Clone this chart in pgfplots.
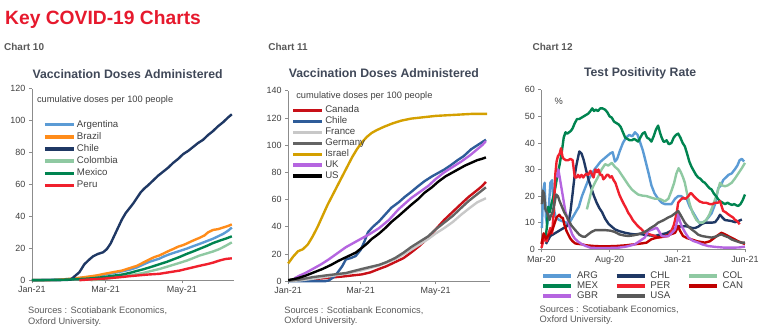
\documentclass[border=0pt]{standalone}
\usepackage{pgfplots}
\pgfplotsset{compat=1.18}
\usepackage{fontspec}
\setmainfont{Liberation Sans}
\definecolor{hdred}{RGB}{230,25,45}
\definecolor{chartlbl}{RGB}{89,89,89}
\definecolor{ttl}{RGB}{64,72,88}
\definecolor{axgray}{RGB}{140,140,140}
\definecolor{lblgray}{RGB}{64,64,64}
\definecolor{cArg}{RGB}{91,155,213}
\definecolor{cBra}{RGB}{255,140,26}
\definecolor{cChl}{RGB}{31,56,100}
\definecolor{cCol}{RGB}{143,201,162}
\definecolor{cMex}{RGB}{0,132,80}
\definecolor{cPer}{RGB}{240,32,45}
\definecolor{cCan}{RGB}{200,16,24}
\definecolor{cChl2}{RGB}{46,92,153}
\definecolor{cFra}{RGB}{200,200,200}
\definecolor{cGer}{RGB}{100,100,100}
\definecolor{cIsr}{RGB}{212,160,0}
\definecolor{cUK}{RGB}{181,101,224}
\definecolor{cUS}{RGB}{0,0,0}
\definecolor{cCan3}{RGB}{192,0,0}
\definecolor{cUSA3}{RGB}{89,89,89}
\pgfplotsset{
  base/.style={
    scale only axis, anchor=south west,
    axis lines=left, axis line style={-, draw=axgray, line width=0.6pt},
    tick style={draw=axgray, line width=0.6pt}, tick align=outside,
    major tick length=3pt,
    xtick pos=bottom, ytick pos=left,
    tick label style={font=\fontsize{9}{10}\selectfont, text=lblgray},
    /pgf/number format/assume math mode=true,
    clip=false,
    every axis plot/.append style={line width=2.4pt, line join=round, mark=none},
    legend cell align=left,
  },
  leg/.style={
    legend image code/.code={\draw[##1, line width=3.5pt] (0pt,0pt) -- (#1,0pt);},
  },
}
\begin{document}
\begin{tikzpicture}
\path (0pt,0pt) rectangle (762pt,332pt);
\node[anchor=base west, font=\bfseries\fontsize{19.3}{20}\selectfont, text=hdred, inner sep=0pt] at (5pt,307pt) {Key COVID-19 Charts};
\node[anchor=base west, font=\bfseries\fontsize{10}{11}\selectfont, text=chartlbl, inner sep=0pt] at (4pt,281pt) {Chart 10};
\node[anchor=base west, font=\bfseries\fontsize{10}{11}\selectfont, text=chartlbl, inner sep=0pt] at (269pt,281pt) {Chart 11};
\node[anchor=base west, font=\bfseries\fontsize{10}{11}\selectfont, text=chartlbl, inner sep=0pt] at (534pt,281pt) {Chart 12};

% ---------------- Chart 10 ----------------
\begin{axis}[base, leg=29pt,
  at={(32pt,51pt)}, width=203pt, height=192pt,
  xmin=0, xmax=162, ymin=0, ymax=120,
  xtick={0,59,120}, xticklabels={Jan-21,Mar-21,May-21},
  ytick={0,20,...,120},
  legend style={at={(axis description cs:0,1)}, anchor=north west, xshift=11pt, yshift=-31pt,
    draw=none, fill=none, inner sep=0pt, row sep=2.5pt,
    font=\fontsize{9.7}{10}\selectfont, text=lblgray,
    nodes={inner sep=0pt, text height=7.2pt, text depth=2.5pt},
    /tikz/every odd column/.append style={column sep=1.5pt}},
]
\addplot[cArg] table {
0 0
25 0.5
35 1
45 2
52 2.7
58 3.5
65 4.5
72 5.5
78 6.5
84 8
89 9.8
94 11.5
98 12.5
102 13.5
106 15
110 16.2
113 17
117 18
121 19
124 19.8
128 21
134 22.7
140 24.5
145 26
149 27.5
153 29
157 31
160 33
};
\addlegendentry{Argentina}
\addplot[cBra] table {
0 0
17 0.1
25 0.5
35 1.2
45 2.2
52 3
58 4
65 5
72 6
78 7.5
84 9
89 11
94 13
98 14.5
102 15.5
106 17
110 18.5
113 19.5
117 21
121 22
124 23
128 24.5
131 25.5
134 26.5
138 28
141 30
145 31.5
149 32
153 33
157 34
160 35
};
\addlegendentry{Brazil}
\addplot[cChl] table {
0 0
20 0
31 0.3
35 3
38 5
42 10
46 13
49 15
53 16.5
57 17.5
60 19.5
63 23
66 28
69 33
72 38
75 42
78 45
81 48
84 51.5
87 55
90 57.5
93 59.5
97 62.5
101 65.5
105 68
109 70.5
113 73.5
117 76
121 79
125 81
129 83.5
133 86
137 88
141 91
145 93.5
149 96.5
153 99
157 102
160 104
};
\addlegendentry{Chile}
\addplot[cCol] table {
47 0
52 0.3
58 0.8
65 1.5
72 2.2
78 3
84 3.8
89 4.5
95 5.7
102 7
108 8.4
113 9.6
118 10.8
124 12.3
129 13.8
134 15.4
140 16.8
145 18
150 19.5
155 21.5
160 23.7
};
\addlegendentry{Colombia}
\addplot[cMex] table {
0 0
23 0.2
35 0.6
45 1
52 1.5
58 2
65 2.8
72 3.5
78 4.5
84 5.8
89 6.8
95 8.2
102 10
108 11.5
113 13
118 14.5
124 16.5
129 18
134 19.6
140 21.5
145 23.3
150 24.7
155 26
160 27.5
};
\addlegendentry{Mexico}
\addplot[cPer] table {
38 0
45 0.4
52 0.7
58 1
65 1.5
72 2
78 2.5
85 3
92 3.5
102 4
110 5
118 6
126 7.5
134 9
140 10
145 11
150 12.3
155 13.3
160 13.7
};
\addlegendentry{Peru}
\end{axis}
\node[anchor=base, font=\bfseries\fontsize{12.3}{13}\selectfont, text=ttl] at (128pt,253pt) {Vaccination Doses Administered};
\node[anchor=base west, inner sep=0pt, font=\fontsize{9.3}{10}\selectfont, text=lblgray] at (37pt,229pt) {cumulative doses per 100 people};
\node[anchor=base west, inner sep=0pt, font=\fontsize{9.3}{10}\selectfont, text=chartlbl] at (28pt,18pt) {Sources : Scotiabank Economics,};
\node[anchor=base west, inner sep=0pt, font=\fontsize{9.3}{10}\selectfont, text=chartlbl] at (28pt,7pt) {Oxford University.};

% ---------------- Chart 11 ----------------
\begin{axis}[base, leg=29pt,
  at={(289pt,50pt)}, width=202pt, height=191pt,
  xmin=0, xmax=164, ymin=0, ymax=140,
  xtick={0,59,120}, xticklabels={Jan-21,Mar-21,May-21},
  ytick={0,20,...,140},
  legend style={at={(axis description cs:0,1)}, anchor=north west, xshift=3pt, yshift=-15pt,
    draw=none, fill=none, inner sep=0pt, row sep=2pt,
    font=\fontsize{9.7}{10}\selectfont, text=lblgray,
    nodes={inner sep=0pt, text height=6.8pt, text depth=2.2pt},
    /tikz/every odd column/.append style={column sep=1.5pt}},
]
\addplot[cCan] table {
0 0.3
10 0.8
20 1.5
33 2.5
45 3.5
60 5
67 6.5
74 9
80 11
87 14
94 17
100 21
107 26
114 32
120 38
127 45
134 51
141 57
147 62
154 67
158 70
161 73
};
\addlegendentry{Canada}
\addplot[cChl2] table {
0 0
30 0
33 0.5
37 3
40 6
44 11
47 16
51 17
55 18.5
59 23
62 29
65 36
69 40
74 44
79 49
84 54
90 58
95 62
100 65.5
106 70
111 73.5
117 77
122 79.5
127 82
132 85
138 89
143 92
149 97
155 100.5
161 104
};
\addlegendentry{Chile}
\addplot[cFra] table {
0 0.1
10 0.6
20 1.8
33 3.5
47 5.5
60 8
74 11.5
87 16
100 23
107 27
114 31
120 35
127 39
134 43.5
141 49
148 54
154 58
161 61
};
\addlegendentry{France}
\addplot[cGer] table {
0 0.3
10 1.3
20 3
33 4.5
47 6
60 9
67 10.5
74 12
80 14
87 17
94 21
100 25
107 29
114 33
120 38
127 43
134 48
141 54
147 59
154 64
161 69
};
\addlegendentry{Germany}
\addplot[cIsr] table {
0 13
4 18
8 22
12 23.5
16 27
20 33
24 40
28 48
32 56
36 63
40 70
44 77
48 84
52 91
56 97
60 102
64 106
68 109
72 111
78 113.5
85 116
92 118
100 119.5
110 120.5
120 121.5
130 122
140 122.5
150 123
162 123
};
\addlegendentry{Israel}
\addplot[cUK] table {
5 2
9 4
14 6
20 9
27 12.5
33 16
40 20.5
47 25
53 28
60 31.5
67 35
74 39
78 42
82 45
86 49
90 53
95 57
100 61
107 65.5
114 70
120 75
127 80
134 84
141 88
148 92.5
154 97
158 100
161 103
};
\addlegendentry{UK}
\addplot[cUS] table {
0 0.8
7 2
14 4
21 6.5
28 9
35 12
41 15
48 18
55 21
60 24.5
64 27.5
68 31
74 35
79 39
84 43.5
90 48
95 52
100 56
106 60.5
111 65
117 69
122 73
128 77
133 79.5
139 82.5
144 85
149 87
154 89
158 90
161 91
};
\addlegendentry{US}
\end{axis}
\node[anchor=base, font=\bfseries\fontsize{12.3}{13}\selectfont, text=ttl] at (385pt,254pt) {Vaccination Doses Administered};
\node[anchor=base west, inner sep=0pt, font=\fontsize{9.3}{10}\selectfont, text=lblgray] at (297pt,233pt) {cumulative doses per 100 people};
\node[anchor=base west, inner sep=0pt, font=\fontsize{9.3}{10}\selectfont, text=chartlbl] at (285pt,18pt) {Sources : Scotiabank Economics,};
\node[anchor=base west, inner sep=0pt, font=\fontsize{9.3}{10}\selectfont, text=chartlbl] at (285pt,8pt) {Oxford University.};

% ---------------- Chart 12 ----------------
\begin{axis}[base, leg=28pt,
  at={(543pt,82pt)}, width=205pt, height=160pt,
  xmin=0, xmax=459, ymin=0, ymax=60,
  xtick={0,153,306,457}, xticklabels={Mar-20,Aug-20,Jan-21,Jun-21},
  ytick={0,10,...,60},
  legend columns=3,
  legend style={at={(axis description cs:0,0)}, anchor=north west, xshift=0pt, yshift=-22pt,
    draw=none, fill=none, inner sep=0pt, row sep=0.8pt,
    font=\fontsize{9.7}{10}\selectfont, text=lblgray,
    nodes={inner sep=0pt, text height=7pt, text depth=2.2pt},
    /tikz/every odd column/.append style={column sep=4pt},
    /tikz/every even column/.append style={column sep=17pt}},
]
\addplot[cArg] table {
1 8
4 22
7 25
10 12
13 9
16 14
20 25
24 26
28 15
32 12
40 11
48 10.5
56 10
63 10
70 12
77 14
84 16
91 20
98 23
105 26
112 28
119 30
126 31.5
133 33
140 34
147 35
154 36
160 36.5
165 33
170 34
176 37
183 40
190 42
197 43
204 42.5
210 44
216 43
222 40
228 37
234 33
240 29
247 24
254 21
262 19
270 17.5
277 17
285 17
292 17
300 19
307 20
314 20
320 19
326 19
333 16
340 14
347 12
354 10
361 10
368 10.6
375 12
382 13.5
390 17
397 23
403 24
408 26
414 27
420 28
427 28.5
434 30
440 31.5
445 33.5
450 34
455 33
};
\addlegendentry{ARG}
\addplot[cChl] table {
10 2
20 5
30 6
40 7
50 8
56 8.5
60 9.5
65 14
70 21
74 27
79 32
85 36.8
90 36
95 33.5
100 30
106 26
112 23
118 20
124 17.5
130 15.5
136 14
143 11.5
151 9.5
158 8.5
165 7.5
175 6.8
188 6.2
200 5.8
210 5.6
220 5.8
230 5.5
245 5.2
255 5
265 5.5
280 6
292 7
300 7.8
307 8.7
315 8.5
322 8.7
330 8.5
338 8
345 8
352 8.5
360 9.5
367 10
375 10
382 10
390 10.2
396 11.5
401 13
406 12
412 11
420 10.8
427 10.6
435 10.2
442 10.6
450 11.2
};
\addlegendentry{CHL}
\addplot[cCol] table {
102 15
108 19
113 22.5
120 25
128 27.5
135 30
143 32
150 31.5
158 32.5
165 31
172 30
180 28
188 26
196 24
203 22.5
210 21.5
217 20.6
226 20.2
236 20
245 19.5
255 19
265 19
277 18
285 19
292 22
298 25
303 28.5
308 30.5
313 29
318 27
322 25
327 21
333 17
340 13.5
348 11
355 10
362 10
370 11
377 13
384 16
390 18.8
396 22
401 25
406 24
412 23.7
418 24
427 25
434 26.5
442 28.5
450 30.5
457 32.5
};
\addlegendentry{COL}
\addplot[cMex] table {
8 3
12 8
15 16
19 14
23 17.5
27 20
31 23
36 28
41 32
46 37
50 42
54 44
58 43.5
62 44
66 44.5
70 45.5
75 47.5
80 49
85 49
90 49.5
95 50
100 50.5
105 51
110 52
114 53
118 52
122 52.5
127 52
132 53
137 53
143 52.5
148 51.5
153 50
158 49.5
163 48
168 47.5
173 47
178 46
183 44
188 42
193 41.5
198 41
203 41
208 41.5
213 41
217 40.5
222 42
227 43.5
232 44
237 42
242 41.5
247 40.5
252 42.5
257 45
262 46.5
266 44
270 42
274 40.5
277 40.5
281 41
286 39.5
292 40
297 42
302 43
307 43.5
312 42
317 40
322 38.7
327 36
332 33
337 31
342 29.5
347 28
352 27
357 26.5
362 25.5
367 25
372 24
377 23
382 22.5
387 21
392 20
397 18.8
402 18
407 17.5
412 17
418 17.5
423 17
428 16.7
433 17
438 16.5
442 16.3
447 17
452 18.5
457 20.6
};
\addlegendentry{MEX}
\addplot[cPer] table {
0 0.5
4 3
8 4
12 3
16 6
20 8
24 6
28 15
31 28
34 33
37 35
41 36
44 38
47 35
50 34
55 33.5
60 33.5
65 34
70 33.5
75 27
79 27
82 28
86 27
90 28
94 27
98 28
102 28.5
105 28
110 29.5
114 28
117 27
121 30
125 29
128 30
132 28
136 28
139 26.3
143 27
147 28
150 28
154 27
158 27.5
162 26
166 25
170 23
175 20.5
180 18.7
185 17
190 15.5
195 13.7
200 12.5
205 11
210 10
215 9
220 8.2
225 7.5
230 6.5
236 6
245 5.5
255 5
262 4.4
270 4.6
278 4.8
285 5
292 7
297 9
300 11
304 14
307 17.5
312 18.5
318 19.4
324 19
330 20
334 21
337 21
342 20
348 19
355 18
363 17.5
370 17.5
378 17
384 17
390 17.5
396 17.5
401 18.1
405 16
408 14.4
413 14
419 13.2
425 12.5
430 12
434 11.2
440 10.5
445 9.4
};
\addlegendentry{PER}
\addplot[cCan3] table {
0 2
5 6
10 4
15 5
20 6
25 7.5
30 10
34 12
40 13
44 12
48 11.8
52 9
56 7
60 5.6
65 4
70 3
76 2.2
83 2
90 1.9
100 1.5
120 1.2
140 1.1
165 1.2
190 1.5
210 1.9
225 2.2
236 2.5
247 3.8
262 4.5
277 5
290 5.6
300 6.2
304 7.5
307 8.7
311 7
318 5
327 4.2
337 3.7
350 3
367 2.5
378 3
390 4.5
398 5.5
404 6.2
410 5.8
419 5
427 4.3
434 3.7
442 3
449 2.5
457 2
};
\addlegendentry{CAN}
\addplot[cUK] table {
35 27
38 30
41 27
44 24
47 21
50 18
54 14
58 11.9
63 8.5
69 5.6
75 4
83 2.8
91 1.9
100 1.2
110 0.6
120 0.5
135 0.5
155 0.5
173 0.6
190 1
200 1.4
210 1.9
220 3
232 4.4
240 6.9
250 7.5
259 8.1
265 6.5
270 5
278 4.8
285 5
292 6
300 7.5
304 10
307 13.1
311 10.5
315 8.7
322 6.5
330 4.4
340 3.2
352 2.5
362 1.8
375 1.2
390 0.9
412 0.6
430 0.6
445 0.7
457 1
};
\addlegendentry{GBR}
\addplot[cUSA3] table {
1 17
3 22
6 21
9 15
12 14
15 13
18 11
21 12.5
25 14
29 17
33 20.6
37 20
41 18
46 16
51 14
56 12.5
61 10.9
67 9
76 7.2
85 5.5
92 4.8
98 4.7
105 5.6
112 6.5
121 7.2
130 7.2
143 7.2
155 7
165 6.5
175 5.6
185 5.2
195 5
205 5.2
217 5.6
227 6.2
236 6.9
245 8
255 9
262 10
270 10.6
277 11.2
285 12
292 12.5
300 13.5
307 14.4
312 13
317 11.5
322 10
330 8.5
337 7.5
345 6.5
352 5.5
360 5
370 4.7
382 4.4
392 4.8
400 5.4
404 5.6
412 5
420 4.5
427 3.7
435 3.2
442 2.8
449 2.5
457 2.5
};
\addlegendentry{USA}
\end{axis}
\node[anchor=base, font=\bfseries\fontsize{12.3}{13}\selectfont, text=ttl] at (642pt,255pt) {Test Positivity Rate};
\node[anchor=base west, inner sep=0pt, font=\fontsize{9.3}{10}\selectfont, text=lblgray] at (556pt,227pt) {\%};
\node[anchor=base west, inner sep=0pt, font=\fontsize{9.3}{10}\selectfont, text=chartlbl] at (541pt,19pt) {Sources : Scotiabank Economics,};
\node[anchor=base west, inner sep=0pt, font=\fontsize{9.3}{10}\selectfont, text=chartlbl] at (541pt,9pt) {Oxford University.};
\end{tikzpicture}
\end{document}
